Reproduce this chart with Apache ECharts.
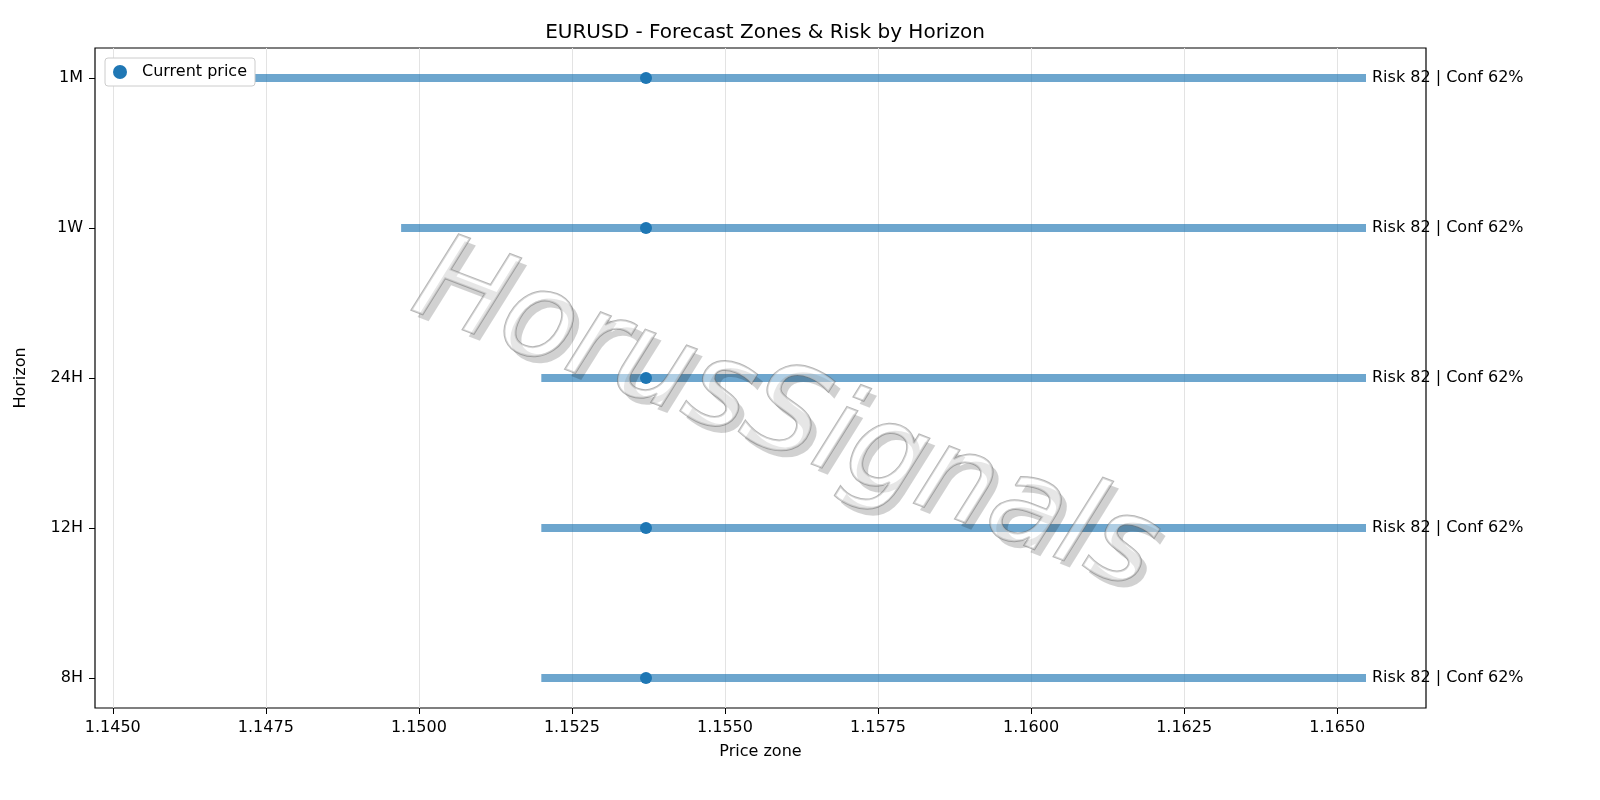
<!DOCTYPE html>
<html lang="en">
  <head>
    <meta charset="UTF-8" />
    <title>EURUSD Forecast Zones</title>
    <style>
      * { padding: 0; margin: 0; }
      html, body { width: 100%; height: 100%; background: #fff; }
      #main { width: 1600px; height: 800px; }
    </style>
  </head>
  <body>
    <div id="main"></div>
    <script src="https://cdn.jsdelivr.net/npm/echarts@6/dist/echarts.min.js"></script>
    <script>
      // horizons, bottom to top
      var horizons = ['8H', '12H', '24H', '1W', '1M'];
      var zoneLow = [1.1520, 1.1520, 1.1520, 1.14971, 1.14569];
      var zoneHigh = [1.16547, 1.16547, 1.16547, 1.16547, 1.16547];
      var currentPrice = 1.15371;
      var riskLabels = ['Risk 82 | Conf 62%', 'Risk 82 | Conf 62%', 'Risk 82 | Conf 62%', 'Risk 82 | Conf 62%', 'Risk 82 | Conf 62%'];
      var xTicks = [1.1450, 1.1475, 1.1500, 1.1525, 1.1550, 1.1575, 1.1600, 1.1625, 1.1650];

      var font = 'DejaVu Sans';
      var myChart = echarts.init(document.getElementById('main'));

      var series = [];
      horizons.forEach(function (h, i) {
        series.push({
          type: 'line',
          name: h,
          silent: true,
          symbol: 'none',
          data: [[zoneLow[i], i], [zoneHigh[i], i]],
          lineStyle: { width: 8, color: '#1f77b4', opacity: 0.65, cap: 'butt' },
          endLabel: {
            show: true,
            formatter: riskLabels[i],
            color: '#000',
            fontFamily: font,
            fontSize: 16,
            distance: 6
          },
          z: 2
        });
      });
      series.push({
        type: 'scatter',
        name: 'Current price',
        symbolSize: 12,
        itemStyle: { color: '#1f77b4', opacity: 1 },
        data: horizons.map(function (h, i) { return [currentPrice, i]; }),
        z: 3
      });

      // watermark: shadow copy + outlined front copy
      function mark(dx, dy, style) {
        return {
          type: 'text', x: 785 + dx, y: 420 + dy,
          rotation: -Math.PI / 180 * 21, z: 10, silent: true,
          style: Object.assign({
            text: 'HorusSignals', align: 'center', verticalAlign: 'middle',
            font: 'italic 120px "DejaVu Sans"'
          }, style)
        };
      }

      var option = {
        animation: false,
        title: {
          text: 'EURUSD - Forecast Zones & Risk by Horizon',
          left: 760,
          textAlign: 'center',
          top: 18,
          textStyle: { fontFamily: font, fontSize: 20, fontWeight: 'normal', color: '#000' }
        },
        legend: {
          data: ['Current price'],
          left: 105,
          top: 58,
          orient: 'vertical',
          backgroundColor: '#fff',
          borderColor: '#ccc',
          borderWidth: 1,
          borderRadius: 3,
          padding: [6, 8],
          itemWidth: 14,
          itemHeight: 14,
          itemGap: 0,
          textStyle: { fontFamily: font, fontSize: 16, color: '#000', padding: [0, 0, 0, 10] }
        },
        grid: {
          left: 95, right: 174, top: 48, bottom: 92,
          show: true, borderColor: '#000', borderWidth: 1.2
        },
        xAxis: {
          type: 'value',
          min: 1.14471,
          max: 1.16645,
          name: 'Price zone',
          nameLocation: 'middle',
          nameGap: 36,
          nameTextStyle: { fontFamily: font, fontSize: 16, color: '#000' },
          axisLine: { show: false, onZero: false },
          axisTick: { show: true, length: 6, lineStyle: { color: '#000' }, customValues: xTicks },
          axisLabel: {
            fontFamily: font, fontSize: 16, color: '#000', margin: 12,
            customValues: xTicks,
            formatter: function (v) { return v.toFixed(4); }
          },
          splitLine: { show: true, lineStyle: { color: '#e3e3e3' }, customValues: xTicks }
        },
        yAxis: {
          type: 'value',
          min: -0.2,
          max: 4.2,
          interval: 1,
          name: 'Horizon',
          nameLocation: 'middle',
          nameGap: 66,
          nameTextStyle: { fontFamily: font, fontSize: 16, color: '#000' },
          axisLine: { show: false, onZero: false },
          axisTick: { show: true, length: 6, lineStyle: { color: '#000' }, customValues: [0, 1, 2, 3, 4] },
          axisLabel: {
            fontFamily: font, fontSize: 16, color: '#000', margin: 12,
            customValues: [0, 1, 2, 3, 4],
            formatter: function (v) { return horizons[Math.round(v)] || ''; }
          },
          splitLine: { show: false }
        },
        graphic: [
          mark(6, 7, { fill: 'rgba(0,0,0,0.18)' }),
          mark(0, 0, { fill: 'rgba(255,255,255,0.45)', stroke: 'rgba(110,110,110,0.5)', lineWidth: 2 })
        ],
        series: series
      };
      myChart.setOption(option);
    </script>
  </body>
</html>
